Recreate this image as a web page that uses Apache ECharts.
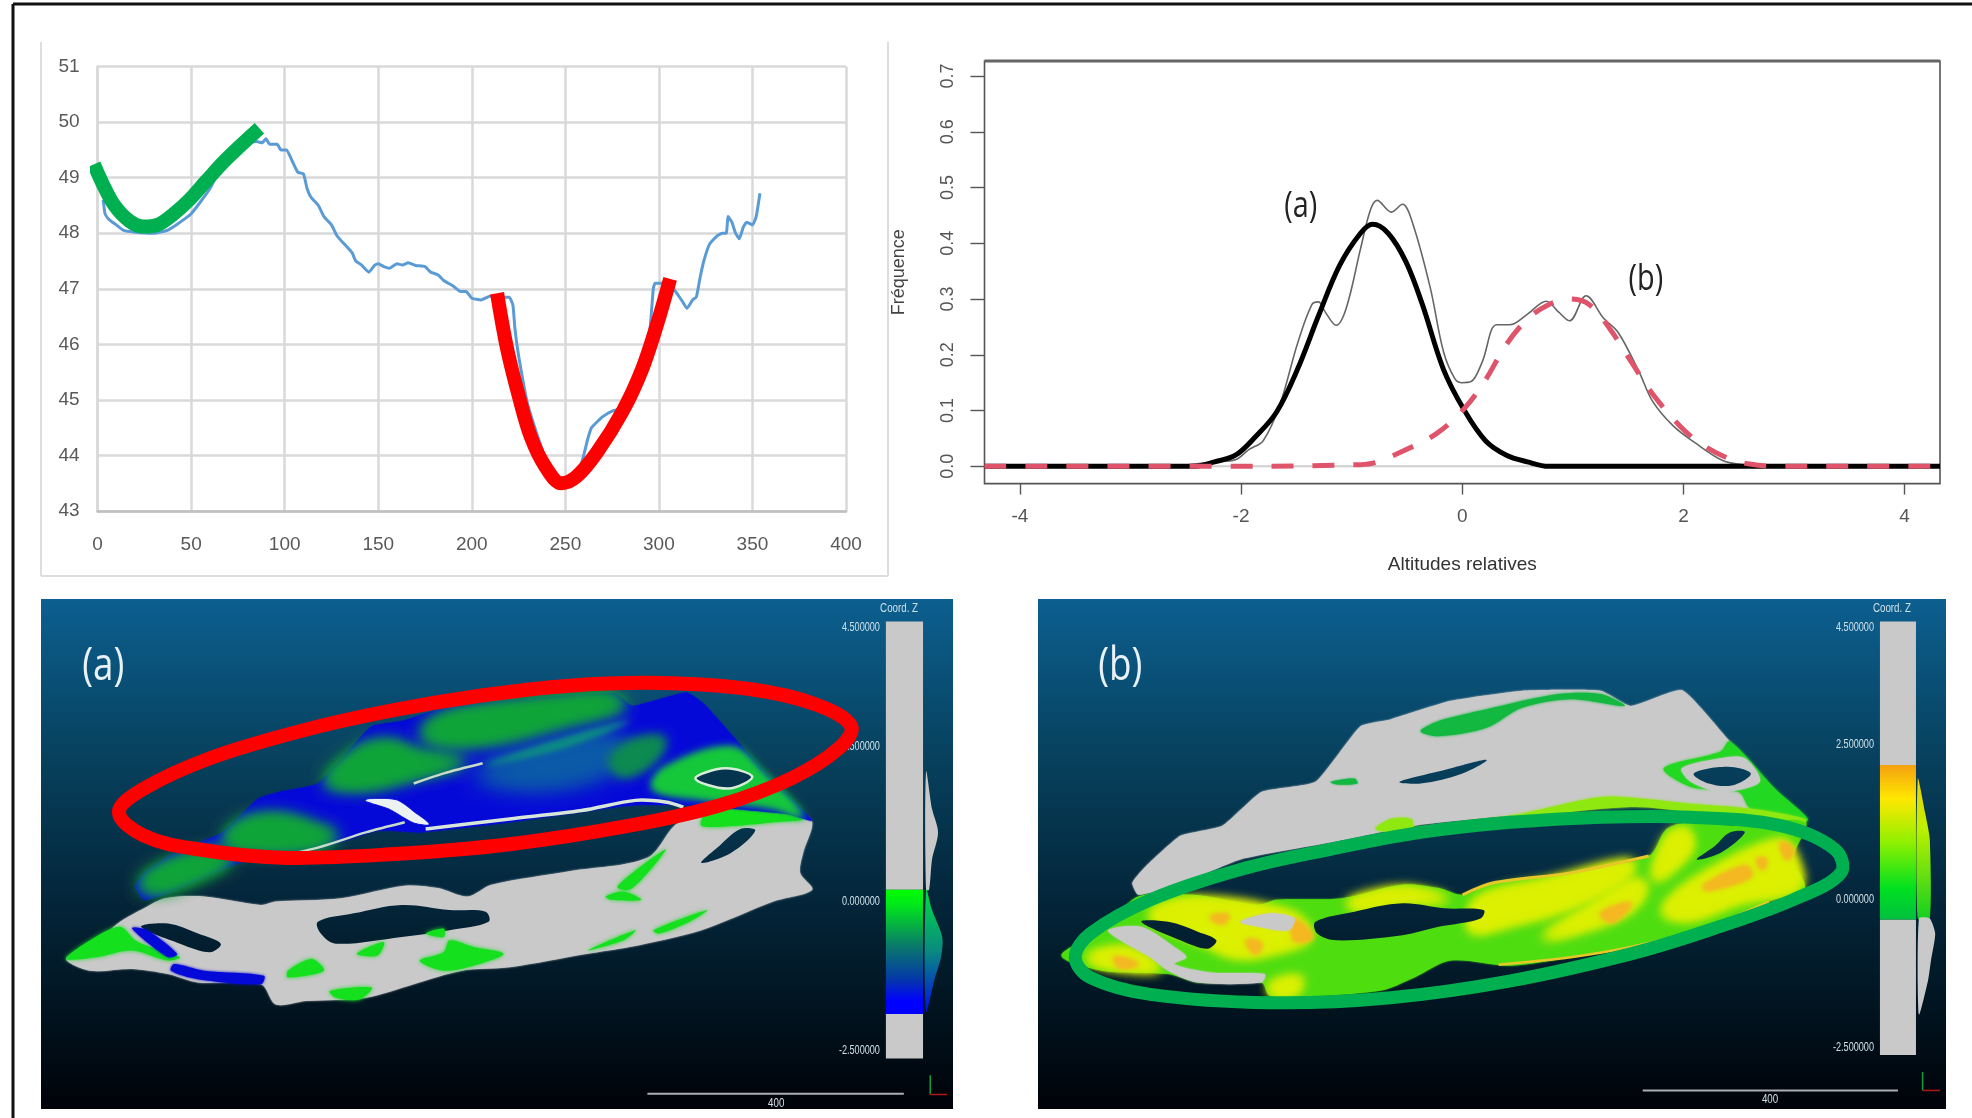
<!DOCTYPE html>
<html><head><meta charset="utf-8">
<style>html,body{margin:0;padding:0;background:#fff}#c{width:1972px;height:1118px;filter:blur(0.5px)}</style>
<script src="https://cdn.jsdelivr.net/npm/echarts@6/dist/echarts.min.js"></script>
</head><body><div id="c"></div>
<script>
// ---------- top-left: altitude profile
const profile = [[3,48.6],[4,48.35],[6,48.25],[10,48.15],[14,48.05],[20,48.02],[30,48.0],[37,48.05],[42,48.15],[50,48.35],[60,48.8],[66,49.2],[70,49.4],[77,49.6],[85,49.65],[88,49.63],[90,49.7],[92,49.6],[96,49.6],[98,49.5],[101,49.5],[104,49.3],[107,49.1],[110,49.07],[112,48.8],[114,48.65],[118,48.5],[121,48.3],[125,48.15],[128,47.95],[132,47.8],[136,47.65],[138,47.5],[141,47.43],[145,47.3],[148,47.42],[150,47.45],[153,47.4],[156,47.37],[160,47.45],[163,47.43],[166,47.47],[170,47.42],[175,47.4],[178,47.3],[182,47.25],[185,47.15],[190,47.05],[194,46.95],[197,46.95],[200,46.83],[205,46.8],[210,46.87],[215,46.85],[220,46.85],[222,46.7],[223,46.3],[225,45.8],[230,44.9],[240,43.9],[250,43.5],[258,43.8],[262,44.3],[264,44.5],[270,44.7],[275,44.8],[280,44.85],[290,45.5],[295,46.2],[297,47.0],[298,47.1],[305,47.1],[310,46.9],[313,46.75],[315,46.65],[318,46.8],[320,46.85],[322,47.2],[324,47.5],[327,47.8],[331,47.95],[334,48.0],[336,48.0],[337,48.3],[339,48.2],[341,48.0],[343,47.9],[345,48.1],[347,48.2],[350,48.15],[352,48.3],[354,48.72]];
const greenFit = [[-2,49.24],[3,48.87],[9,48.5],[17,48.22],[24.5,48.12],[32,48.15],[40,48.33],[49,48.6],[58,48.94],[69,49.34],[86.5,49.89]];
const redFit = [[213.5,46.92],[219,45.9],[225.5,45.02],[231.6,44.33],[239.3,43.8],[248,43.5],[256,43.62],[267,44.06],[280.7,44.8],[291,45.55],[299,46.36],[306,47.18]];

// ---------- top-right: densities
const densTicksX = [-4,-2,0,2,4];
const densTicksY = [0,0.1,0.2,0.3,0.4,0.5,0.6,0.7];
const zeroLine = [[-4.32,0],[4.32,0]];
const density = [[-2.6,0],[-2.24,0.008],[-2.05,0.012],[-1.93,0.03],[-1.8,0.046],[-1.65,0.11],[-1.49,0.22],[-1.36,0.29],[-1.3,0.295],[-1.24,0.277],[-1.14,0.253],[-1.05,0.283],[-0.92,0.39],[-0.83,0.46],[-0.77,0.477],[-0.64,0.456],[-0.54,0.47],[-0.45,0.437],[-0.29,0.321],[-0.17,0.206],[-0.07,0.158],[-0.01,0.15],[0.08,0.152],[0.18,0.187],[0.31,0.254],[0.43,0.254],[0.59,0.273],[0.76,0.296],[0.87,0.277],[0.97,0.261],[1.12,0.306],[1.28,0.265],[1.41,0.24],[1.6,0.169],[1.72,0.117],[1.91,0.072],[2.1,0.043],[2.35,0.011],[2.54,0.003],[2.9,0]];
const normalA = [[-4.32,0],[-2.8,0],[-2.43,0],[-2.24,0.008],[-2.05,0.02],[-1.87,0.053],[-1.68,0.097],[-1.49,0.174],[-1.3,0.27],[-1.11,0.36],[-0.92,0.418],[-0.81,0.434],[-0.67,0.418],[-0.51,0.367],[-0.36,0.29],[-0.17,0.174],[0.02,0.1],[0.21,0.046],[0.4,0.02],[0.59,0.008],[0.78,0],[2,0],[4.32,0]];
const normalB = [[-4.32,0],[-2,0],[-0.92,0.003],[-0.8,0.006],[-0.54,0.027],[-0.23,0.059],[0.02,0.104],[0.21,0.155],[0.4,0.219],[0.59,0.264],[0.78,0.29],[0.97,0.3],[1.15,0.29],[1.34,0.245],[1.53,0.187],[1.72,0.13],[1.97,0.072],[2.16,0.04],[2.41,0.014],[2.6,0.004],[2.85,0],[3.5,0],[4.32,0]];

// ---------- panel (a) shapes, in panel units
const aUpper = [[175,880],[190,840],[240,780],[320,720],[380,620],[415,600],[480,575],[550,440],[570,405],[620,390],[700,345],[860,320],[975,308],[1005,345],[1095,305],[1125,340],[1230,550],[1305,685],[1260,665],[1100,640],[1000,640],[800,690],[650,720],[580,715],[480,770],[350,810],[230,900],[190,920]];
const aBlobTop = [[655,430],[685,380],[760,350],[880,325],[965,315],[990,345],[890,395],[780,445],[695,455]];
const aBlobMid = [[495,570],[550,475],[600,455],[645,485],[725,510],[635,555],[560,585]];
const aBlobLow = [[325,745],[355,690],[420,675],[485,710],[510,730],[475,762],[355,768]];
const aBlobTail = [[185,880],[208,832],[298,778],[335,800],[228,890]];
const aBlobRight = [[1060,530],[1170,470],[1225,550],[1290,675],[1240,645],[1130,620],[1040,590]];
const aBlobOval = [[968,510],[1002,452],[1058,442],[1040,508],[990,552]];
const aBand = [[745,550],[825,485],[955,435],[995,470],[955,545],[840,585]];
const aStreak = [[760,520],[900,440],[1000,390],[900,460]];
const aShoreA = [[660,710],[800,680],[920,655],[1010,625],[1060,630],[1090,645]];
const aShoreB = [[400,795],[480,765],[560,720],[625,690]];
const aSpot = [[560,625],[610,625],[640,660],[665,695],[640,690],[600,650]];
const aSlit = [[640,575],[690,545],[755,515]];
const aHoleRing = [[1110,560],[1160,530],[1205,555],[1165,590]];
const aLower = [[60,1095],[100,1060],[150,985],[190,945],[225,915],[290,910],[385,935],[410,925],[520,915],[625,878],[680,885],[730,910],[770,875],[900,835],[1030,795],[1075,700],[1100,680],[1240,660],[1280,660],[1305,690],[1290,780],[1285,840],[1305,890],[1240,925],[1120,1010],[1000,1060],[930,1080],[800,1120],[720,1130],[640,1170],[560,1210],[460,1220],[410,1230],[385,1170],[280,1165],[230,1140],[170,1125],[100,1130]];
const aHoleLens = [[480,985],[540,960],[620,935],[700,950],[760,955],[765,985],[700,1010],[620,1030],[510,1050],[485,1020]];
const aHoleLeft = [[185,1000],[230,990],[280,1020],[318,1050],[300,1075],[250,1050]];
const aHoleSlit = [[1185,710],[1210,715],[1170,780],[1120,810],[1150,760]];
const aGreens = [
 [[60,1095],[100,1040],[150,1000],[175,1040],[200,1060],[250,1090],[230,1100],[170,1070],[110,1090]],
 [[650,1100],[690,1075],[700,1040],[740,1060],[790,1080],[750,1110],[690,1130]],
 [[430,1130],[470,1095],[490,1130],[430,1150]],
 [[500,1190],[570,1180],[550,1215],[510,1210]],
 [[545,1080],[590,1045],[580,1085]],
 [[1040,1010],[1130,950],[1100,985],[1050,1020]],
 [[960,910],[990,895],[1020,920],[970,920]],
 [[980,880],[1060,770],[1040,820],[1000,890]],
 [[930,1070],[1010,1010],[990,1040]],
 [[660,1020],[690,1005],[690,1030]],
 [[1130,660],[1240,650],[1290,680],[1240,690],[1180,700],[1120,700]]
];
const aBlueBand = [[240,1110],[290,1130],[390,1145],[385,1170],[280,1155],[235,1130]];
const aBlueStreak = [[170,1005],[195,1010],[245,1080],[230,1090]];
const aBarGrayTop = [[1428,95],[1490,95],[1490,890],[1428,890]];
const aBarColor = [[1428,890],[1490,890],[1490,1258],[1428,1258]];
const aBarGrayBottom = [[1428,1258],[1490,1258],[1490,1390],[1428,1390]];
const aHistGray = [[1495,540],[1505,650],[1515,720],[1505,800],[1500,890],[1495,890]];
const aHistColor = [[1495,890],[1505,950],[1522,1030],[1520,1090],[1510,1150],[1495,1250]];
const aRing = [[148,660],[190,590],[300,500],[450,420],[600,360],[750,315],[900,285],[1050,277],[1200,295],[1310,340],[1370,405],[1350,470],[1270,560],[1150,640],[1000,700],[800,755],[600,785],[420,795],[280,770],[190,730]];
const aScale = [[1030,1495],[1458,1495]];
const aTriadY = [[1502,1440],[1502,1497]];
const aTriadX = [[1502,1497],[1530,1497]];
const aBarLabels = [[1418,112,'4.500000'],[1418,465,'2.500000'],[1418,925,'0.000000'],[1418,1367,'-2.500000']];

// ---------- panel (b) shapes, in panel units
const bUpper = [[170,870],[190,825],[250,730],[320,700],[385,600],[475,570],[550,405],[600,385],[700,330],[820,300],[950,300],[1000,345],[1085,298],[1160,440],[1235,590],[1290,680],[1200,660],[1100,640],[1000,640],[800,670],[640,700],[500,750],[350,800],[240,880],[180,905]];
const bTopGreen = [[650,420],[680,390],[760,355],[880,310],[950,310],[990,345],[900,325],[820,350],[760,410],[680,435]];
const bSmallGreen = [[500,570],[540,560],[545,575],[510,578]];
const bSlit = [[615,570],[690,535],[760,505],[720,545],[650,575]];
const bRightGreen = [[1055,530],[1150,480],[1165,450],[1240,590],[1295,685],[1200,650],[1180,600],[1100,585]];
const bRightGray = [[1085,530],[1150,500],[1190,500],[1215,570],[1150,600],[1100,570]];
const bHoleRing = [[1105,545],[1160,525],[1200,545],[1170,580],[1130,575]];
const bShore = [[575,710],[600,680],[635,680],[640,705],[800,670],[950,615],[1020,620],[1100,635],[1200,650],[1290,680],[1290,700],[1200,680],[1100,660],[1000,645],[800,680],[620,720]];
const bLower = [[52,1085],[120,1010],[180,910],[270,905],[380,935],[410,920],[520,915],[620,875],[680,885],[720,905],[770,870],[900,840],[1030,790],[1060,710],[1100,690],[1170,700],[1290,690],[1270,800],[1290,885],[1230,925],[1120,1005],[1000,1060],[900,1090],[800,1115],[700,1100],[640,1150],[580,1190],[400,1205],[385,1165],[280,1165],[230,1140],[120,1130]];
const bYellows = [
 [[205,950],[280,918],[435,962],[465,1030],[400,1075],[340,1085],[282,1040],[205,980]],
 [[745,920],[860,865],[1000,805],[995,850],[900,940],[800,990],[735,1010]],
 [[855,1030],[930,945],[1005,865],[1025,882],[995,955],[900,1018]],
 [[1055,955],[1105,865],[1250,745],[1275,800],[1280,882],[1180,925],[1100,975]],
 [[95,1090],[160,1065],[215,1125],[130,1118]],
 [[402,1170],[450,1152],[440,1198],[402,1198]],
 [[530,925],[620,888],[695,920],[620,928],[545,948]],
 [[1060,740],[1090,710],[1100,770],[1040,860]]
];
const bOranges = [
 [[300,970],[330,965],[320,990]],
 [[440,980],[470,1030],[440,1040]],
 [[950,960],[1000,930],[970,985]],
 [[1120,880],[1190,820],[1200,850],[1130,890]],
 [[1210,800],[1225,800],[1220,830]],
 [[1250,750],[1270,770],[1260,800]],
 [[140,1090],[180,1110],[150,1120]],
 [[360,1040],[385,1050],[375,1080]]
];
const bEdgeTop = [[720,905],[770,870],[900,840],[1030,790]];
const bEdgeBottom = [[780,1112],[900,1090],[1000,1060],[1120,1005],[1230,925]];
const bGrayMid = [[350,985],[400,960],[440,975],[430,1010],[380,1000]];
const bGrayLeft = [[130,1010],[185,1000],[240,1060],[260,1090],[240,1110],[300,1135],[390,1140],[385,1165],[280,1165],[230,1130],[200,1090],[160,1050]];
const bHoleLens = [[475,985],[540,955],[620,930],[690,945],[755,950],[750,975],[680,1000],[620,1025],[510,1040],[478,1020]];
const bHoleLeft = [[185,985],[230,985],[280,1015],[310,1040],[295,1065],[250,1040]];
const bHoleSlit = [[1165,720],[1190,720],[1150,780],[1110,800],[1140,760]];
const bBarGrayTop = [[1415,95],[1475,95],[1475,520],[1415,520]];
const bBarColor = [[1415,520],[1475,520],[1475,978],[1415,978]];
const bBarGrayBottom = [[1415,978],[1475,978],[1475,1380],[1415,1380]];
const bHistColor = [[1478,560],[1490,660],[1498,740],[1498,975],[1478,975]];
const bHistGray = [[1480,975],[1498,975],[1507,1020],[1500,1100],[1495,1160],[1480,1260]];
const bRing = [[75,1090],[100,1020],[200,920],[350,830],[500,770],[650,720],[800,690],[950,675],[1100,675],[1250,700],[1340,770],[1350,840],[1270,920],[1130,1010],[1000,1080],[800,1160],[600,1210],[400,1225],[200,1200],[100,1150]];
const bScale = [[1020,1485],[1445,1485]];
const bTriadY = [[1486,1430],[1486,1485]];
const bTriadX = [[1486,1485],[1515,1485]];
const bBarLabels = [[1405,112,'4.500000'],[1405,460,'2.500000'],[1405,918,'0.000000'],[1405,1357,'-2.500000']];

// ---------- layout and helpers
const PANEL_TOP = 599, PANEL_H = 510, OFF = 4000;
const bgStops = [{offset:0,color:'#0c5f90'},{offset:0.3,color:'#07425f'},{offset:0.55,color:'#04293f'},{offset:0.8,color:'#011420'},{offset:1,color:'#000208'}];
const bgFlat = {type:'linear',x:0,y:0,x2:0,y2:1,colorStops:bgStops};
const bgPage = {type:'linear',x:0,y:PANEL_TOP,x2:0,y2:PANEL_TOP+PANEL_H,global:true,colorStops:bgStops};
const vert = stops => ({type:'linear',x:0,y:0,x2:0,y2:1,colorStops:stops});

const series = [];
function base(g, pts, renderItem){
  series.push({type:'custom',coordinateSystem:'cartesian2d',xAxisIndex:g,yAxisIndex:g,clip:false,silent:true,
    encode:{x:0,y:1},data:pts,animation:false,renderItem});
}
function shape(g, pts, style, smooth, kind){
  base(g,pts,(p,api)=>p.dataIndex!==0?null:{type:kind||'polygon',
    shape:{points:pts.map(q=>api.coord(q)),smooth:smooth==null?0.35:smooth},style});
}
// blurred shape: only its shadow lands on the panel
function glow(g, pts, color, blur, times){
  for(let i=0;i<(times||1);i++) base(g,pts,(p,api)=>{
    if(p.dataIndex!==0) return null;
    return {type:'polygon',shape:{points:pts.map(q=>{const c=api.coord(q);return [c[0]-OFF,c[1]];}),smooth:0.35},
      style:{fill:color,shadowColor:color,shadowBlur:blur,shadowOffsetX:OFF}};
  });
}
function soft(g, pts, fill, blur){ shape(g,pts,{fill,shadowBlur:blur==null?6:blur,shadowColor:fill},0.3); }
function stroke(g, pts, color, width){ shape(g,pts,{fill:null,stroke:color,lineWidth:width},0.3,'polyline'); }
function ring(g, pts, color, width){ shape(g,pts,{fill:null,stroke:color,lineWidth:width},0.36); }
function label(g, x, y, text, font, fill, align, sx){
  base(g,[[x,y]],(p,api)=>{const c=api.coord([x,y]);
    return {type:'text',x:c[0],y:c[1],scaleX:sx||1,style:{text,font,fill,align:align||'center',verticalAlign:'middle'}};});
}
function line(g, data, color, width, opt){
  series.push(Object.assign({type:'line',xAxisIndex:g,yAxisIndex:g,data,symbol:'none',animation:false,silent:true,
    lineStyle:{color,width,cap:'butt'}},opt||{}));
}

// chart 0
line(0,profile,'#5b9bd5',3,{smooth:0.15});
line(0,greenFit,'#00b050',14,{smooth:0.35,clip:false});
line(0,redFit,'#ff0000',14,{smooth:0.35,clip:false});

// chart 1
line(1,zeroLine,'#cfcfcf',2);
line(1,density,'#666666',1.6,{smooth:0.35});
line(1,normalA,'#000000',5,{smooth:0.35});
series.push({type:'line',xAxisIndex:1,yAxisIndex:1,data:normalB,symbol:'none',animation:false,silent:true,smooth:0.35,
  lineStyle:{color:'#df536b',width:5,type:[22,19]}});
const ANNOT='36px "Open Sans"';
label(1,-1.46,0.465,'(a)',ANNOT,'#222',null,0.8);
label(1,1.66,0.334,'(b)',ANNOT,'#222',null,0.8);

// panel a
const G='#c9c9c9', DG='#0fa438', BG='#14e01e', BLUE='#0409d8', LBL='#cfe0e8', SF='13px "Liberation Sans"';
soft(2,aLower,G,2);
[aHoleLens,aHoleLeft,aHoleSlit].forEach(h=>shape(2,h,{fill:bgPage},0.35));
aGreens.forEach(h=>soft(2,h,BG,4));
soft(2,aBlueBand,BLUE,3); soft(2,aBlueStreak,BLUE,3);
shape(2,aUpper,{fill:BLUE,shadowBlur:2,shadowColor:BLUE},0.15);
glow(2,aBand,'#0a5aa8',22,2);
[aBlobTop,aBlobMid,aBlobLow,aBlobTail].forEach(h=>glow(2,h,DG,16,3));
glow(2,aBlobOval,'#0c8a50',12,2);
glow(2,aBlobRight,'#14c83a',9,2);
glow(2,aStreak,'#0b9080',6,2);
stroke(2,aShoreA,'#d8e6d8',3.5); stroke(2,aShoreB,'#c8dcc8',2.5); stroke(2,aSlit,'#c8dcc8',2.5);
soft(2,aSpot,'#ecf2f2',1);
shape(2,aHoleRing,{fill:'#04344e',stroke:'#d8ecd8',lineWidth:2.5},0.35);
shape(2,aBarGrayTop,{fill:G},0); shape(2,aBarGrayBottom,{fill:G},0);
shape(2,aBarColor,{fill:vert([{offset:0,color:'#00ff00'},{offset:0.12,color:'#00e81a'},{offset:0.45,color:'#0a7a6a'},{offset:0.72,color:'#0438a8'},{offset:0.9,color:'#0000ff'},{offset:1,color:'#0000ff'}])},0);
shape(2,aHistGray,{fill:G},0.3);
shape(2,aHistColor,{fill:vert([{offset:0,color:'#00e040'},{offset:0.5,color:'#0a8a80'},{offset:1,color:'#0010e0'}])},0.3);
aBarLabels.forEach(l=>label(2,l[0],l[1],l[2],SF,LBL,'right',0.7));
label(2,1450,57,'Coord. Z',SF,LBL,null,0.75);
ring(2,aRing,'#ff0000',14);
label(2,122,228,'(a)','46px "Open Sans"','#e8f2f6',null,0.8);
stroke(2,aScale,'#a8b0b4',2);
label(2,1245,1523,'400',SF,LBL,null,0.75);
stroke(2,aTriadY,'#12a040',1.5); stroke(2,aTriadX,'#b01818',1.5);

// panel b
const Y='#dcf000', O='#f5b820', LG='#4ede10';
shape(3,bUpper,{fill:G,shadowBlur:2,shadowColor:G},0.15);
soft(3,bTopGreen,'#12b840',3);
soft(3,bSmallGreen,'#12b840',2);
shape(3,bSlit,{fill:bgPage},0.35);
soft(3,bRightGreen,'#22d820',3);
soft(3,bRightGray,G,2);
shape(3,bHoleRing,{fill:bgPage},0.35);
soft(3,bShore,'#8fe810',3);
soft(3,bLower,LG,2);
bYellows.forEach(h=>glow(3,h,Y,12,3));
bOranges.forEach(h=>glow(3,h,O,5,3));
stroke(3,bEdgeTop,'#e8c828',3); stroke(3,bEdgeBottom,'#e8c828',2.5);
soft(3,bGrayMid,G,2); soft(3,bGrayLeft,G,2);
[bHoleLens,bHoleLeft,bHoleSlit].forEach(h=>shape(3,h,{fill:bgPage},0.35));
shape(3,bBarGrayTop,{fill:G},0); shape(3,bBarGrayBottom,{fill:G},0);
shape(3,bBarColor,{fill:vert([{offset:0,color:'#f5a010'},{offset:0.22,color:'#ffe800'},{offset:0.5,color:'#90f000'},{offset:0.8,color:'#00e020'},{offset:1,color:'#00c040'}])},0);
shape(3,bHistColor,{fill:vert([{offset:0,color:'#f0d000'},{offset:0.35,color:'#c0f000'},{offset:1,color:'#10d020'}])},0.2);
shape(3,bHistGray,{fill:G},0.2);
bBarLabels.forEach(l=>label(3,l[0],l[1],l[2],SF,LBL,'right',0.7));
label(3,1435,57,'Coord. Z',SF,LBL,null,0.75);
ring(3,bRing,'#00b050',13);
label(3,150,228,'(b)','46px "Open Sans"','#e8f2f6',null,0.8);
stroke(3,bScale,'#a8b0b4',2);
label(3,1232,1512,'400',SF,LBL,null,0.75);
stroke(3,bTriadY,'#12a040',1.5); stroke(3,bTriadX,'#b01818',1.5);

const panelAxis = (i,min,max,inv)=>({gridIndex:i,type:'value',min,max,inverse:!!inv,show:false,splitLine:{show:false}});
const option = {
  backgroundColor:'#ffffff', animation:false,
  grid:[
    {left:97.6,top:66.6,width:748.4,height:444.4},
    {left:984.5,top:61,width:955.5,height:422.6,show:true,borderColor:'#555555',borderWidth:1.6,backgroundColor:'transparent'},
    {left:41,top:PANEL_TOP,width:912,height:PANEL_H,show:true,borderWidth:0,backgroundColor:bgFlat},
    {left:1038,top:PANEL_TOP,width:908,height:PANEL_H,show:true,borderWidth:0,backgroundColor:bgFlat}
  ],
  xAxis:[
    {gridIndex:0,type:'value',min:0,max:400,interval:50,
      axisLine:{show:true,onZero:false,lineStyle:{color:'#bfbfbf',width:2.5}},axisTick:{show:false},
      splitLine:{show:true,lineStyle:{color:'#d9d9d9',width:2.5}},
      axisLabel:{color:'#595959',fontFamily:'Liberation Sans',fontSize:19,margin:24}},
    {gridIndex:1,type:'value',min:-4.32,max:4.32,splitLine:{show:false},
      axisLine:{show:false,onZero:false},
      axisTick:{show:true,length:11,customValues:densTicksX,lineStyle:{color:'#555555',width:1.4}},
      axisLabel:{customValues:densTicksX,color:'#555555',fontFamily:'Liberation Sans',fontSize:19,margin:24},
      name:'Altitudes relatives',nameLocation:'middle',nameGap:72,
      nameTextStyle:{color:'#333333',fontFamily:'Liberation Sans',fontSize:19}},
    panelAxis(2,18,1540), panelAxis(3,13,1525)
  ],
  yAxis:[
    {gridIndex:0,type:'value',min:43,max:51,interval:1,
      axisLine:{show:true,onZero:false,lineStyle:{color:'#d9d9d9',width:2.5}},axisTick:{show:false},
      splitLine:{show:true,lineStyle:{color:'#d9d9d9',width:2.5}},
      axisLabel:{color:'#595959',fontFamily:'Liberation Sans',fontSize:19,margin:18}},
    {gridIndex:1,type:'value',min:-0.031,max:0.727,splitLine:{show:false},
      axisLine:{show:false,onZero:false},
      axisTick:{show:true,length:14,customValues:densTicksY,lineStyle:{color:'#555555',width:1.4}},
      axisLabel:{customValues:densTicksY,rotate:90,color:'#555555',fontFamily:'Liberation Sans',fontSize:18,margin:27,
        formatter:v=>v.toFixed(1)},
      name:'Fréquence',nameLocation:'middle',nameGap:76,nameRotate:90,
      nameTextStyle:{color:'#444444',fontFamily:'Liberation Sans',fontSize:18}},
    panelAxis(2,28,1540,true), panelAxis(3,28,1540,true)
  ],
  series,
  graphic:[
    {type:'line',shape:{x1:13,y1:4,x2:1972,y2:4},style:{stroke:'#111111',lineWidth:3},silent:true,z:10},
    {type:'line',shape:{x1:13,y1:4,x2:13,y2:1118},style:{stroke:'#111111',lineWidth:3},silent:true,z:10},
    {type:'line',shape:{x1:41,y1:42,x2:41,y2:576},style:{stroke:'#dddddd',lineWidth:2},silent:true},
    {type:'line',shape:{x1:888,y1:42,x2:888,y2:576},style:{stroke:'#dddddd',lineWidth:2},silent:true},
    {type:'line',shape:{x1:41,y1:576,x2:888,y2:576},style:{stroke:'#dddddd',lineWidth:2},silent:true},
    {type:'line',shape:{x1:984.5,y1:61,x2:1940,y2:61},style:{stroke:'#666666',lineWidth:3},silent:true}
  ]
};
echarts.init(document.getElementById('c')).setOption(option);
</script></body></html>
